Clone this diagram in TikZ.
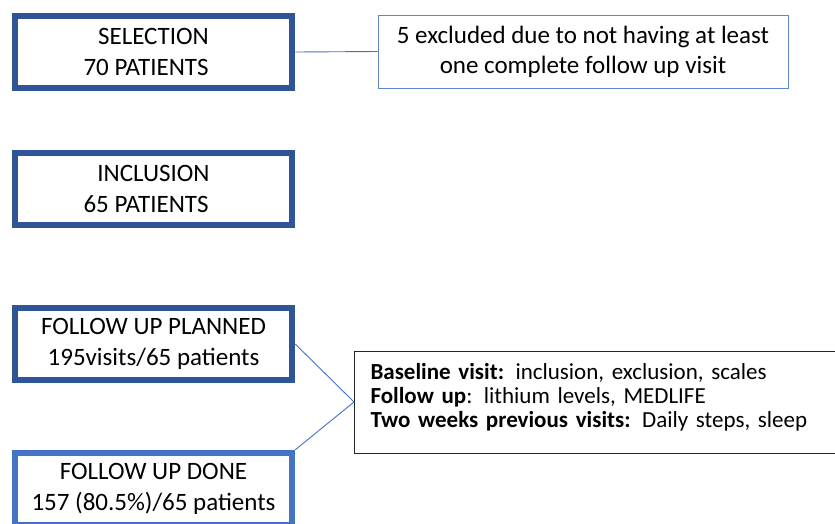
\documentclass[tikz,border=0pt]{standalone}
\usepackage{fontspec}
\setmainfont{Carlito}
\usepackage{tikz}

\definecolor{stageblue}{HTML}{2F5597}
\definecolor{doneblue}{HTML}{4472C4}
\definecolor{linkblue}{HTML}{4472C4}

\begin{document}
\begin{tikzpicture}[x=1pt, y=-1pt,
					stage/.style={rectangle, draw=stageblue, line width=6.5pt, minimum width=277pt, minimum height=72pt, inner sep=0pt, align=center, font=\fontsize{25}{31}\selectfont},
					donestage/.style={stage, draw=doneblue},
					note/.style={rectangle, draw=linkblue!85, line width=1pt, minimum width=410pt, minimum height=73pt, inner sep=0pt, align=center, font=\fontsize{25}{30}\selectfont},
					visits/.style={rectangle, draw=black!85, line width=1pt, minimum height=102pt, inner xsep=16pt, text width=470pt, align=left, font=\fontsize{23}{24}\selectfont},
					link/.style={draw=linkblue, line width=0.9pt}]
\useasboundingbox (0,0) rectangle (835,523);
\clip (0,0) rectangle (835,523);
\node[stage] (selection) at (153.5,52) {SELECTION\\70 PATIENTS\kern15pt};
\node[note] (excluded) at (583,51.5) {5 excluded due to not having at least\\one complete follow up visit};
\node[stage] (inclusion) at (153.5,189) {INCLUSION\\65 PATIENTS\kern15pt};
\node[stage] (planned) at (153.5,344) {FOLLOW UP PLANNED\\195visits/65 patients};
\node[donestage] (done) at (153.5,489) {FOLLOW UP DONE\\157 (80.5\%)/65 patients};
\node[visits, anchor=west] (baseline) at (354,402)
	{\textbf{Baseline visit:} inclusion, exclusion, scales\\
	 \textbf{Follow up}: lithium levels, MEDLIFE\\
	 \textbf{Two weeks previous visits:} Daily steps, sleep\\[-10pt]\mbox{}};
\draw[link] (selection.east) -- (excluded.west);
\draw[link] (planned.east) -- (baseline.west);
\draw[link] (done.north east) -- (baseline.west);
\end{tikzpicture}
\end{document}
